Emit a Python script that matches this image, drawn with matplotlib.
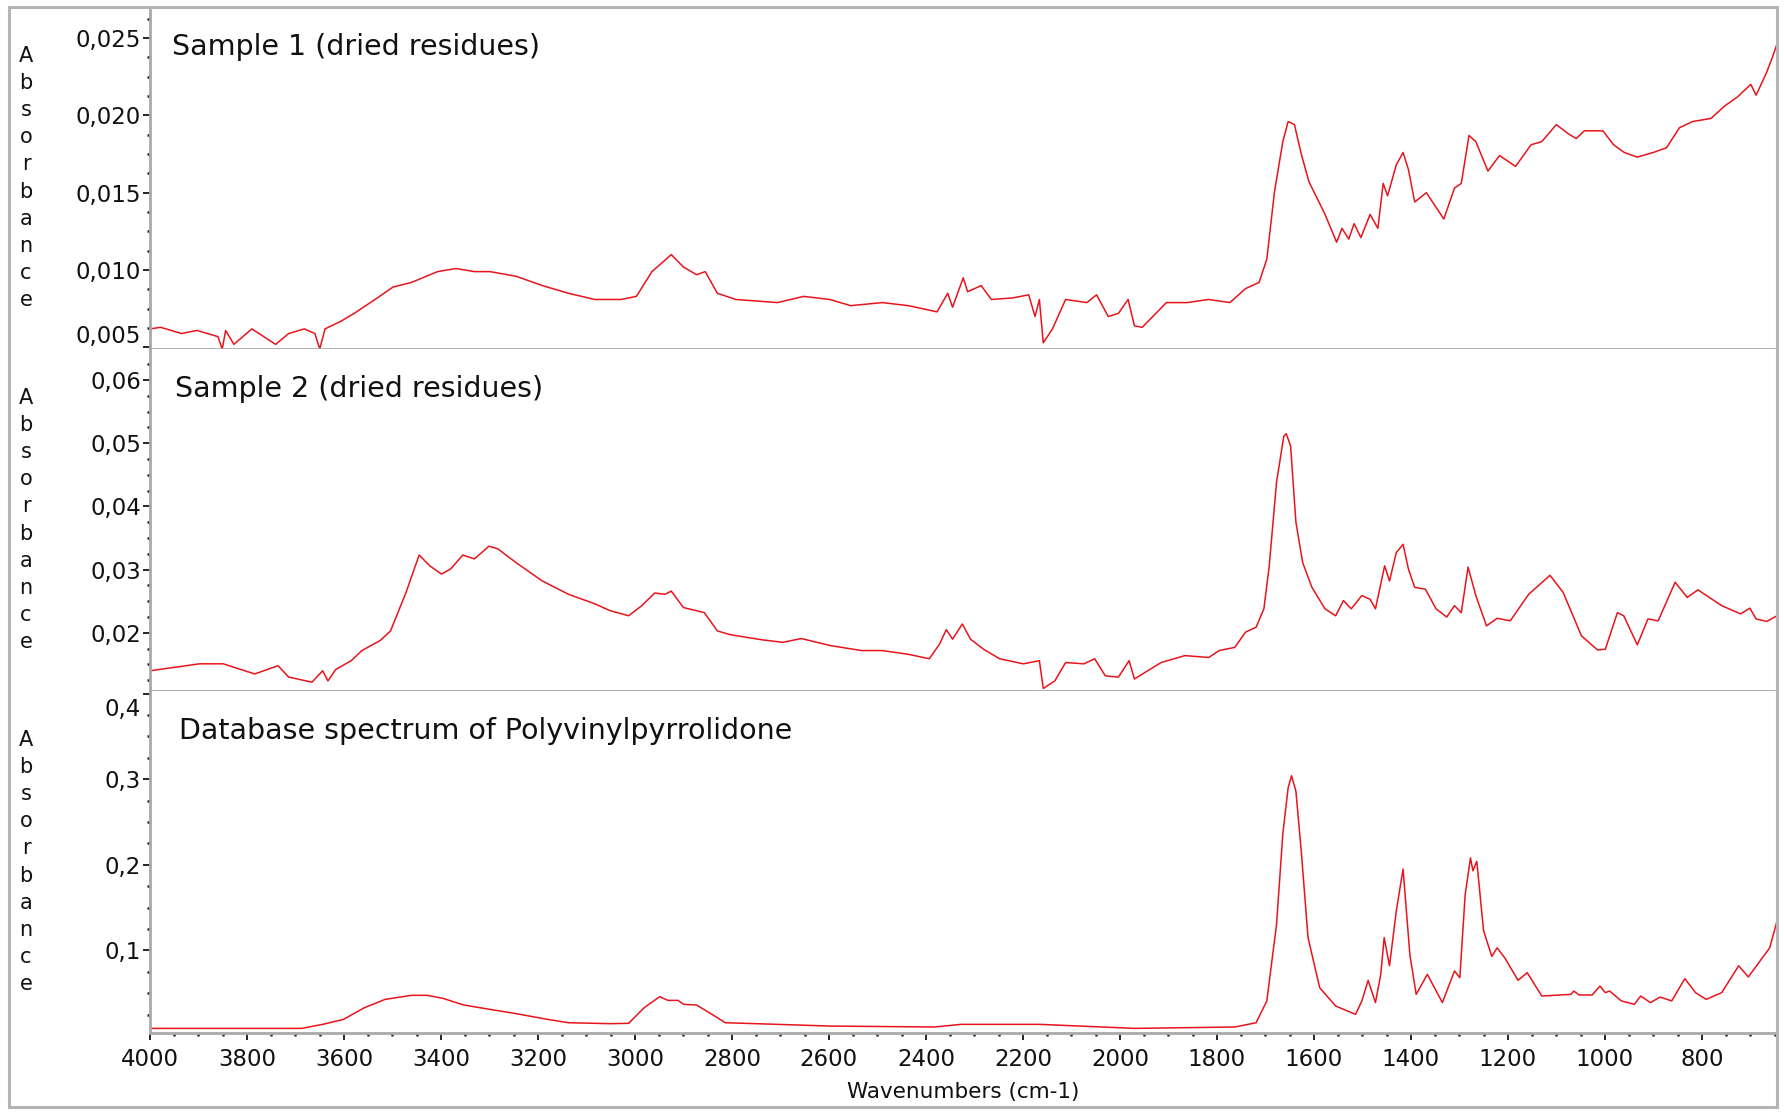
import matplotlib
matplotlib.use("Agg")
import matplotlib.pyplot as plt
import matplotlib.transforms as mtransforms
from matplotlib.patches import Rectangle
from matplotlib.ticker import MultipleLocator

plt.rcParams['font.family'] = ['DejaVu Sans']

# ---------------- data ----------------
s1_wn = [4000, 3978, 3935, 3903, 3860, 3851, 3844, 3827, 3790, 3741, 3714, 3682, 3660, 3650, 3639,
         3606, 3579, 3536, 3499, 3461, 3407, 3369, 3331, 3299, 3245, 3191, 3137, 3083, 3029, 2997,
         2965, 2925, 2900, 2873, 2855, 2830, 2792, 2706, 2652, 2598, 2555, 2490, 2436, 2377, 2355,
         2345, 2323, 2314, 2286, 2265, 2221, 2188, 2175, 2166, 2158, 2139, 2112, 2068, 2048, 2024,
         2003, 1983, 1970, 1954, 1904, 1861, 1817, 1773, 1741, 1713, 1697, 1681, 1664, 1653, 1640,
         1626, 1610, 1577, 1553, 1542, 1528, 1517, 1503, 1484, 1468, 1457, 1448, 1430, 1416, 1405,
         1392, 1368, 1332, 1310, 1296, 1280, 1266, 1241, 1217, 1184, 1152, 1130, 1100, 1075, 1059,
         1042, 1004, 982, 960, 933, 900, 873, 846, 819, 781, 753, 726, 699, 688, 666, 655, 645]
s1_abs = [0.0062, 0.0063, 0.0059, 0.0061, 0.0057, 0.0049, 0.0061, 0.0052, 0.0062, 0.0052, 0.0059, 0.0062, 0.0059, 0.0049, 0.0062,
          0.0067, 0.0072, 0.0081, 0.0089, 0.0092, 0.0099, 0.0101, 0.0099, 0.0099, 0.0096, 0.0090, 0.0085, 0.0081, 0.0081, 0.0083,
          0.0099, 0.0110, 0.0102, 0.0097, 0.0099, 0.0085, 0.0081, 0.0079, 0.0083, 0.0081, 0.0077, 0.0079, 0.0077, 0.0073, 0.0085,
          0.0076, 0.0095, 0.0086, 0.0090, 0.0081, 0.0082, 0.0084, 0.0070, 0.0081, 0.0053, 0.0062, 0.0081, 0.0079, 0.0084, 0.0070,
          0.0072, 0.0081, 0.0064, 0.0063, 0.0079, 0.0079, 0.0081, 0.0079, 0.0088, 0.0092, 0.0107, 0.0151, 0.0183, 0.0196, 0.0194,
          0.0175, 0.0157, 0.0136, 0.0118, 0.0127, 0.0120, 0.0130, 0.0121, 0.0136, 0.0127, 0.0156, 0.0148, 0.0168, 0.0176, 0.0165,
          0.0144, 0.0150, 0.0133, 0.0153, 0.0156, 0.0187, 0.0183, 0.0164, 0.0174, 0.0167, 0.0181, 0.0183, 0.0194, 0.0188, 0.0185,
          0.0190, 0.0190, 0.0181, 0.0176, 0.0173, 0.0176, 0.0179, 0.0192, 0.0196, 0.0198, 0.0206, 0.0212, 0.0220, 0.0213, 0.0228, 0.0237, 0.0246]

s2_wn = [4000, 3898, 3849, 3784, 3736, 3714, 3666, 3644, 3633, 3617, 3585, 3563, 3525, 3504, 3472,
         3445, 3423, 3399, 3380, 3355, 3331, 3301, 3283, 3245, 3191, 3137, 3083, 3051, 3013, 2986,
         2959, 2938, 2925, 2900, 2857, 2830, 2803, 2738, 2695, 2657, 2598, 2533, 2490, 2436, 2393,
         2372, 2358, 2345, 2325, 2308, 2281, 2248, 2199, 2166, 2158, 2134, 2112, 2074, 2052, 2030,
         2003, 1981, 1970, 1915, 1866, 1817, 1795, 1763, 1741, 1719, 1703, 1692, 1677, 1662, 1657,
         1648, 1637, 1623, 1604, 1577, 1555, 1539, 1523, 1501, 1484, 1473, 1454, 1444, 1430, 1416,
         1405, 1392, 1370, 1348, 1326, 1310, 1296, 1282, 1266, 1244, 1222, 1195, 1157, 1113, 1086,
         1048, 1015, 999, 974, 961, 933, 911, 890, 855, 830, 808, 759, 720, 701, 688, 666, 645]
s2_abs = [0.0140, 0.0151, 0.0151, 0.0135, 0.0148, 0.0130, 0.0122, 0.0140, 0.0124, 0.0142, 0.0156, 0.0172, 0.0188, 0.0203, 0.0264,
          0.0323, 0.0306, 0.0293, 0.0301, 0.0323, 0.0317, 0.0337, 0.0333, 0.0311, 0.0282, 0.0261, 0.0246, 0.0235, 0.0227, 0.0243,
          0.0263, 0.0261, 0.0266, 0.0240, 0.0232, 0.0203, 0.0197, 0.0189, 0.0185, 0.0191, 0.0180, 0.0172, 0.0172, 0.0166, 0.0159,
          0.0182, 0.0205, 0.0190, 0.0214, 0.0190, 0.0174, 0.0159, 0.0151, 0.0156, 0.0112, 0.0124, 0.0153, 0.0151, 0.0159, 0.0132,
          0.0130, 0.0156, 0.0127, 0.0153, 0.0164, 0.0161, 0.0172, 0.0177, 0.0201, 0.0209, 0.0238, 0.0306, 0.0438, 0.0511, 0.0515,
          0.0496, 0.0375, 0.0311, 0.0272, 0.0238, 0.0227, 0.0251, 0.0238, 0.0259, 0.0253, 0.0238, 0.0306, 0.0282, 0.0327, 0.0340,
          0.0301, 0.0272, 0.0269, 0.0238, 0.0225, 0.0243, 0.0232, 0.0304, 0.0259, 0.0211, 0.0223, 0.0219, 0.0261, 0.0291, 0.0264,
          0.0195, 0.0173, 0.0174, 0.0232, 0.0227, 0.0181, 0.0222, 0.0219, 0.0280, 0.0256, 0.0268, 0.0243, 0.0230, 0.0239, 0.0222, 0.0218, 0.0227]

pvp_wn = [4000, 3687, 3644, 3601, 3558, 3515, 3461, 3428, 3396, 3353, 3299, 3245, 3180, 3137, 3051,
          3013, 2981, 2949, 2932, 2911, 2900, 2873, 2841, 2814, 2706, 2598, 2382, 2328, 2166, 1970,
          1763, 1719, 1697, 1677, 1664, 1653, 1646, 1637, 1626, 1612, 1588, 1555, 1514, 1501, 1488,
          1473, 1462, 1455, 1444, 1430, 1416, 1402, 1389, 1366, 1335, 1310, 1299, 1288, 1277, 1272,
          1264, 1250, 1233, 1222, 1206, 1179, 1160, 1130, 1070, 1064, 1053, 1026, 1010, 999, 990,
          966, 939, 926, 906, 886, 862, 835, 813, 791, 759, 724, 704, 660, 645]
pvp_abs = [0.0089, 0.0089, 0.0136, 0.0194, 0.0330, 0.0428, 0.0475, 0.0475, 0.0440, 0.0362, 0.0311, 0.0261, 0.0194, 0.0155, 0.0144,
           0.0148, 0.0330, 0.0459, 0.0416, 0.0416, 0.0370, 0.0362, 0.0253, 0.0155, 0.0136, 0.0116, 0.0105, 0.0136, 0.0136, 0.0089,
           0.0105, 0.0155, 0.0410, 0.1300, 0.2360, 0.2900, 0.3040, 0.2860, 0.2160, 0.1150, 0.0564, 0.0350, 0.0253, 0.0410, 0.0650,
           0.0390, 0.0720, 0.1150, 0.0820, 0.1460, 0.1950, 0.0950, 0.0486, 0.0720, 0.0390, 0.0760, 0.0680, 0.1650, 0.2080, 0.1930,
           0.2040, 0.1230, 0.0930, 0.1030, 0.0910, 0.0650, 0.0740, 0.0467, 0.0486, 0.0525, 0.0479, 0.0479, 0.0584, 0.0506, 0.0525,
           0.0410, 0.0370, 0.0467, 0.0390, 0.0455, 0.0410, 0.0670, 0.0506, 0.0428, 0.0506, 0.0820, 0.0690, 0.1030, 0.1340]

titles = ["Sample 1 (dried residues)", "Sample 2 (dried residues)",
          "Database spectrum of Polyvinylpyrrolidone"]

s1_yticks = [0.005, 0.010, 0.015, 0.020, 0.025]
s1_ylabels = ["0,005", "0,010", "0,015", "0,020", "0,025"]
s2_yticks = [0.02, 0.03, 0.04, 0.05, 0.06]
s2_ylabels = ["0,02", "0,03", "0,04", "0,05", "0,06"]
pvp_yticks = [0.1, 0.2, 0.3, 0.4]
pvp_ylabels = ["0,1", "0,2", "0,3", "0,4"]

x_ticks = [4000, 3800, 3600, 3400, 3200, 3000, 2800, 2600, 2400, 2200, 2000, 1800, 1600, 1400, 1200, 1000, 800]
x_label = "Wavenumbers (cm-1)"
y_label = "Absorbance"

# ---------------- layout ----------------
W, H = 1784, 1115
fig = plt.figure(figsize=(W / 100, H / 100), dpi=100)

ax_left = 150 / W
ax_w = (1776 - 150) / W
panel_tops = [7, 349, 691]
panel_h = 342

line_color = '#e8141c'
spine_color = '#a9a9a9'

panels = [
    (s1_wn, s1_abs, s1_yticks, s1_ylabels, (0.0049, 0.0270), 0.00125, 0.0135),
    (s2_wn, s2_abs, s2_yticks, s2_ylabels, (0.0108, 0.0649), 0.0025, 0.0154),
    (pvp_wn, pvp_abs, pvp_yticks, pvp_ylabels, (0.0035, 0.4030), 0.025, 0.0178),
]

axes = []
for i, (wn, ab, yt, yl, ylim, minor, tx) in enumerate(panels):
    top = panel_tops[i]
    ax = fig.add_axes([ax_left, 1 - (top + panel_h) / H, ax_w, panel_h / H])
    ax.plot(wn, ab, color=line_color, lw=1.1)
    ax.set_xlim(4000, 647)
    ax.set_ylim(*ylim)
    ax.set_yticks(yt)
    ax.set_yticklabels(yl)
    ax.yaxis.set_minor_locator(MultipleLocator(minor))
    ax.xaxis.set_minor_locator(MultipleLocator(50))
    for s in ['top', 'right']:
        ax.spines[s].set_visible(False)
    for s in ['left', 'bottom']:
        ax.spines[s].set_color(spine_color)
        ax.spines[s].set_linewidth(2.0)
    ax.tick_params(axis='y', which='major', direction='out', length=5, width=1.2,
                   color='black', labelsize=16.5, pad=1.5, labelcolor='#111111')
    ax.tick_params(axis='y', which='minor', direction='out', length=2.2, width=1.8, color='#222222')
    ax.text(tx, 1 - 40 / panel_h, titles[i], transform=ax.transAxes, ha='left', va='center',
            fontsize=20.5, color='#111111')
    # vertical letter-by-letter y label
    cy = 1 - (top + panel_h / 2) / H
    fig.text(26 / W, cy, "\n".join(y_label), ha='center', va='center', fontsize=15,
             linespacing=1.45, color='#111111')
    if i < 2:
        ax.set_xticks(x_ticks)
        ax.tick_params(axis='x', which='both', length=0, labelbottom=False)
    else:
        ax.set_xticks(x_ticks)
        ax.set_xticklabels([str(v) for v in x_ticks])
        ax.tick_params(axis='x', which='major', direction='out', length=5, width=1.2,
                       color='black', labelsize=16.5, pad=6, labelcolor='#111111')
        ax.tick_params(axis='x', which='minor', direction='out', length=2.2, width=1.8, color='#222222')
        ax.set_xlabel(x_label, fontsize=15.5, labelpad=8, color='#111111')
    axes.append(ax)

# outer frame
fig.patches.append(Rectangle((9 / W, 1 - 1107 / H), (1777 - 9) / W, (1107 - 7) / H,
                             transform=fig.transFigure, fill=False, edgecolor='#b4b4b4',
                             linewidth=2.2, zorder=10))

fig.canvas.draw()
# edge labels pushed inside the axes, as in the original software
lab = axes[0].get_yticklabels()[0]
lab.set_transform(lab.get_transform() + mtransforms.ScaledTranslation(0, 13 / 100, fig.dpi_scale_trans))
lab = axes[2].get_yticklabels()[-1]
lab.set_transform(lab.get_transform() + mtransforms.ScaledTranslation(0, -13 / 100, fig.dpi_scale_trans))

fig.savefig("out.png", dpi=100)
